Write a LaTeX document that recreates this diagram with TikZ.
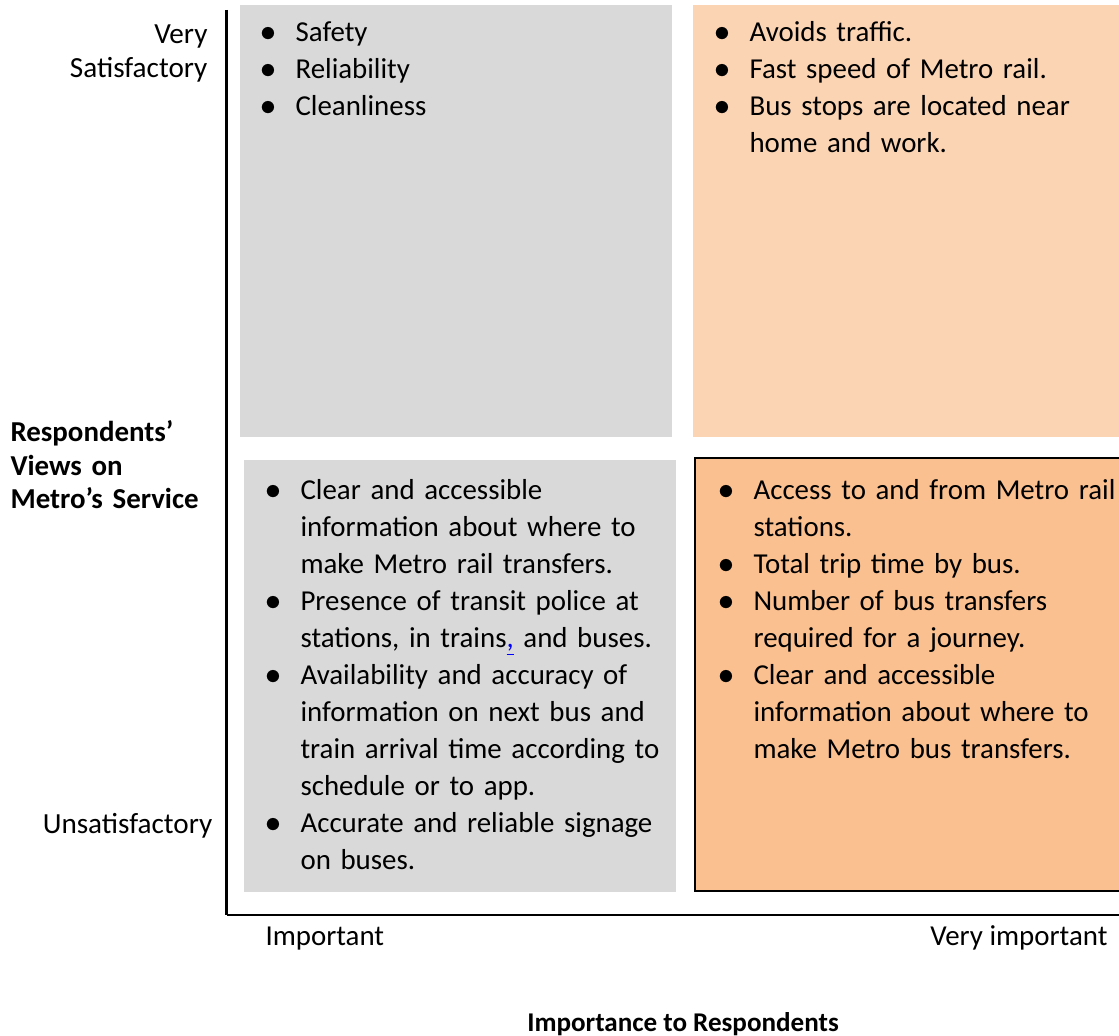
\documentclass[tikz,border=0pt]{standalone}
\usepackage{fontspec}
\setmainfont{Carlito}
\usetikzlibrary{positioning}
\definecolor{boxgray}{HTML}{D9D9D9}
\definecolor{peachlight}{HTML}{FBD4B4}
\definecolor{peachdark}{HTML}{FAC090}
\definecolor{linkblue}{HTML}{0000FF}
\newcommand{\bul}{\makebox[12.6bp][l]{\scalebox{1.15}{$\bullet$}}}
\newcommand{\ind}{\hspace*{12.6bp}}
\tikzset{quad/.style={rectangle,anchor=north west,inner sep=0mm,outer sep=0mm,minimum width=155.52bp,minimum height=155.52bp}}
\tikzset{graybox/.style={quad,fill=boxgray}}
\tikzset{peachbox/.style={quad,fill=peachlight}}
\tikzset{orangebox/.style={quad,fill=peachdark,draw=black,line width=1bp}}
\tikzset{itemtext/.style={anchor=base west,inner sep=0mm,text width=190bp,align=left,font=\fontsize{10.4bp}{13.32bp}\selectfont}}
\tikzset{scalelabel/.style={anchor=base east,inner sep=0mm,text width=60bp,align=right,font=\fontsize{10.5bp}{12.2bp}\selectfont}}
\tikzset{axislabel/.style={inner sep=0mm,font=\fontsize{10.4bp}{13.32bp}\selectfont}}
\tikzset{axistitle/.style={inner sep=0mm,font=\bfseries\fontsize{9.75bp}{12bp}\selectfont}}
\begin{document}
\begin{tikzpicture}[x=0.36bp,y=-0.36bp]
    \useasboundingbox (0,0) rectangle (1119,1036);

    \node[graybox]   (tl) at (240,5)   {};
    \node[peachbox,minimum width=153.36bp] (tr) at (693,5) {};
    \node[graybox]   (bl) at (244,460) {};
    \node[orangebox,minimum width=154.8bp,minimum height=155.9bp] (br) at (695,458) {};

    \coordinate (ytop)   at (226.5,10);
    \coordinate (origin) at (226.5,915);
    \coordinate (xend)   at (1119,915);
    \draw[line width=0.75bp] (ytop) -- (origin);
    \draw[line width=1bp] (origin) -- (xend);

    \node[itemtext] (tltext) at (260,42)
      {\bul Safety\\ \bul Reliability\\ \bul Cleanliness};
    \node[itemtext] (trtext) at (714,42)
      {\bul Avoids traffic.\\ \bul Fast speed of Metro rail.\\
       \bul Bus stops are located near\\ \ind home and work.};
    \node[itemtext] (bltext) at (265,499)
      {\bul Clear and accessible\\ \ind information about where to\\
       \ind make Metro rail transfers.\\
       \bul Presence of transit police at\\
       \ind stations, in trains\textcolor{linkblue}{\underline{,}} and buses.\\
       \bul Availability and accuracy of\\ \ind information on next bus and\\
       \ind train arrival time according to\\ \ind schedule or to app.\\
       \bul Accurate and reliable signage\\ \ind on buses.};
    \node[itemtext] (brtext) at (718,499)
      {\bul Access to and from Metro rail\\ \ind stations.\\
       \bul Total trip time by bus.\\
       \bul Number of bus transfers\\ \ind required for a journey.\\
       \bul Clear and accessible\\ \ind information about where to\\
       \ind make Metro bus transfers.};

    \node[scalelabel] (high) at (208,44) {Very\\Satisfactory};
    \node[scalelabel] (low)  at (210,833) {Unsatisfactory};
    \node[scalelabel,anchor=base west,align=left,text width=90bp,font=\bfseries\fontsize{10.4bp}{11.9bp}\selectfont]
      (ytitle) at (10,442) {Respondents’\\Views on\\Metro’s Service};

    \node[axislabel,anchor=base west] (imp)  at (265,945) {Important};
    \node[axislabel,anchor=base east] (vimp) at (1108,945) {Very important};
    \node[axistitle,anchor=base] (xtitle) at (683,1031) {Importance to Respondents};
\end{tikzpicture}
\end{document}
